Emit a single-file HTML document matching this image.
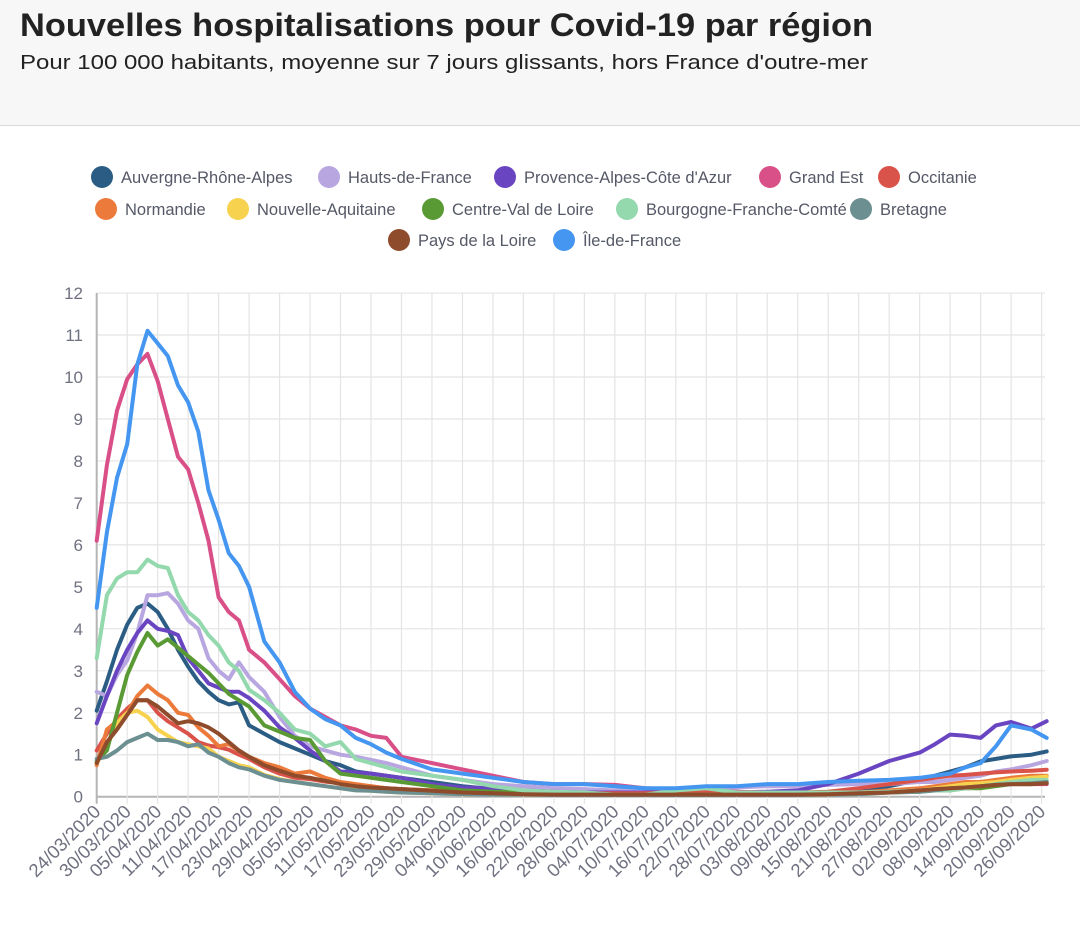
<!DOCTYPE html>
<html><head><meta charset="utf-8"><style>
body{margin:0;background:#fff;width:1080px;height:935px;overflow:hidden;font-family:"Liberation Sans",sans-serif}
svg{display:block}
</style></head><body>
<svg id="c" width="1080" height="935">
<rect x="0" y="0" width="1080" height="125" fill="#f7f7f7"/>
<line x1="0" y1="125.5" x2="1080" y2="125.5" stroke="#d8d8d8"/>
<text x="20" y="36" font-size="32" font-weight="bold" fill="#222" textLength="853" lengthAdjust="spacingAndGlyphs">Nouvelles hospitalisations pour Covid-19 par région</text>
<text x="20" y="69" font-size="20" fill="#222" textLength="848" lengthAdjust="spacingAndGlyphs">Pour 100 000 habitants, moyenne sur 7 jours glissants, hors France d'outre-mer</text>
<g id="grid"></g><g id="legend"></g><g id="lines"></g>
</svg>
<script>
const days=[0,2,4,6,8,10,12,14,16,18,20,22,24,26,28,30,33,36,39,42,45,48,51,54,57,60,66,72,78,84,90,96,102,108,114,120,126,132,138,144,150,156,162,165,168,171,174,177,180,184,187];
const yTicks=[0,1,2,3,4,5,6,7,8,9,10,11,12];
const xLabels=["24/03/2020","30/03/2020","05/04/2020","11/04/2020","17/04/2020","23/04/2020","29/04/2020","05/05/2020","11/05/2020","17/05/2020","23/05/2020","29/05/2020","04/06/2020","10/06/2020","16/06/2020","22/06/2020","28/06/2020","04/07/2020","10/07/2020","16/07/2020","22/07/2020","28/07/2020","03/08/2020","09/08/2020","15/08/2020","21/08/2020","27/08/2020","02/09/2020","08/09/2020","14/09/2020","20/09/2020","26/09/2020"];
const names=["Auvergne-Rhône-Alpes","Hauts-de-France","Provence-Alpes-Côte d'Azur","Grand Est","Occitanie","Normandie","Nouvelle-Aquitaine","Centre-Val de Loire","Bourgogne-Franche-Comté","Bretagne","Pays de la Loire","Île-de-France"];
const colors=["#2b5d84","#b8a6e0","#6a45c2","#d94f87","#d9534a","#ec7a3b","#f7d24f","#5a9a35","#93d9ad","#6c8f91","#8e4c2c","#4496f0"];
const ara=[2.05,2.75,3.5,4.1,4.5,4.6,4.4,4.0,3.5,3.1,2.75,2.5,2.3,2.2,2.25,1.7,1.5,1.3,1.15,1.0,0.85,0.75,0.6,0.55,0.5,0.45,0.35,0.25,0.18,0.12,0.1,0.1,0.1,0.08,0.08,0.08,0.08,0.08,0.08,0.1,0.15,0.25,0.4,0.5,0.6,0.7,0.84,0.9,0.96,1.0,1.08];
const hdf=[2.5,2.4,2.9,3.25,3.9,4.8,4.8,4.85,4.6,4.2,4.0,3.3,3.0,2.8,3.2,2.85,2.5,1.9,1.45,1.2,1.1,1.0,0.95,0.88,0.8,0.7,0.5,0.4,0.3,0.25,0.2,0.18,0.15,0.15,0.18,0.2,0.22,0.25,0.25,0.28,0.3,0.3,0.35,0.35,0.4,0.45,0.5,0.6,0.65,0.75,0.85];
const paca=[1.75,2.4,3.0,3.5,3.9,4.2,4.0,3.95,3.85,3.3,3.0,2.7,2.6,2.5,2.5,2.35,2.05,1.65,1.4,1.1,0.85,0.6,0.58,0.55,0.5,0.45,0.3,0.22,0.2,0.15,0.12,0.1,0.1,0.1,0.1,0.1,0.1,0.12,0.15,0.3,0.55,0.85,1.05,1.25,1.48,1.45,1.4,1.7,1.78,1.62,1.8];
const ge=[6.1,7.9,9.2,9.95,10.3,10.55,9.9,9.0,8.1,7.8,7.0,6.1,4.75,4.4,4.2,3.5,3.2,2.8,2.4,2.1,1.9,1.7,1.6,1.45,1.4,0.95,0.8,0.65,0.5,0.35,0.3,0.3,0.28,0.2,0.18,0.15,0.12,0.1,0.1,0.1,0.1,0.12,0.15,0.18,0.2,0.22,0.25,0.28,0.3,0.3,0.3];
const occ=[1.1,1.5,1.85,2.1,2.3,2.3,2.0,1.8,1.65,1.5,1.3,1.22,1.18,1.12,1.0,0.9,0.7,0.55,0.45,0.42,0.36,0.32,0.28,0.25,0.2,0.18,0.15,0.12,0.1,0.1,0.1,0.08,0.08,0.08,0.1,0.1,0.1,0.1,0.1,0.12,0.2,0.3,0.4,0.45,0.5,0.52,0.55,0.58,0.6,0.62,0.64];
const nor=[0.75,1.6,1.8,2.0,2.4,2.65,2.45,2.3,2.0,1.95,1.65,1.45,1.2,1.25,1.1,0.95,0.8,0.7,0.55,0.6,0.45,0.35,0.3,0.25,0.2,0.18,0.15,0.12,0.1,0.08,0.06,0.05,0.05,0.05,0.05,0.05,0.05,0.05,0.05,0.05,0.1,0.15,0.2,0.25,0.3,0.35,0.35,0.4,0.45,0.5,0.5];
const naq=[0.8,1.2,1.75,2.0,2.05,1.9,1.6,1.45,1.3,1.25,1.2,1.15,0.95,0.85,0.75,0.7,0.52,0.42,0.35,0.3,0.25,0.2,0.16,0.14,0.12,0.1,0.08,0.06,0.05,0.05,0.04,0.04,0.04,0.04,0.04,0.04,0.04,0.04,0.04,0.05,0.06,0.1,0.15,0.2,0.25,0.3,0.32,0.35,0.4,0.45,0.48];
const cvl=[0.85,1.1,2.0,2.9,3.45,3.9,3.6,3.75,3.55,3.35,3.15,2.95,2.7,2.45,2.3,2.15,1.7,1.55,1.4,1.35,0.85,0.55,0.5,0.45,0.4,0.35,0.25,0.15,0.12,0.1,0.08,0.06,0.05,0.05,0.05,0.05,0.05,0.05,0.05,0.06,0.08,0.1,0.12,0.15,0.15,0.2,0.2,0.25,0.3,0.3,0.35];
const bfc=[3.3,4.8,5.2,5.35,5.35,5.65,5.5,5.45,4.8,4.4,4.2,3.85,3.6,3.2,3.0,2.55,2.3,2.0,1.6,1.5,1.2,1.3,0.9,0.8,0.7,0.6,0.5,0.4,0.25,0.15,0.12,0.1,0.05,0.05,0.15,0.2,0.1,0.1,0.1,0.1,0.1,0.12,0.15,0.15,0.15,0.2,0.25,0.3,0.35,0.4,0.4];
const bre=[0.9,0.95,1.1,1.3,1.4,1.5,1.35,1.35,1.3,1.2,1.25,1.05,0.95,0.8,0.7,0.65,0.5,0.4,0.35,0.3,0.25,0.2,0.15,0.14,0.12,0.1,0.08,0.06,0.05,0.05,0.04,0.04,0.04,0.04,0.04,0.04,0.04,0.04,0.04,0.05,0.06,0.1,0.12,0.15,0.2,0.22,0.25,0.28,0.3,0.32,0.35];
const pdl=[0.8,1.3,1.6,1.95,2.3,2.3,2.15,1.95,1.75,1.8,1.75,1.65,1.5,1.3,1.1,0.95,0.75,0.62,0.5,0.45,0.38,0.3,0.25,0.22,0.2,0.18,0.14,0.1,0.08,0.06,0.05,0.05,0.05,0.05,0.05,0.05,0.05,0.05,0.05,0.06,0.08,0.1,0.15,0.18,0.2,0.22,0.25,0.28,0.3,0.3,0.32];
const idf=[4.5,6.3,7.6,8.4,10.3,11.1,10.8,10.5,9.8,9.4,8.7,7.3,6.6,5.8,5.5,5.0,3.7,3.2,2.5,2.1,1.85,1.7,1.4,1.25,1.05,0.9,0.65,0.55,0.45,0.35,0.3,0.3,0.25,0.2,0.2,0.25,0.25,0.3,0.3,0.35,0.38,0.4,0.45,0.5,0.55,0.7,0.8,1.2,1.7,1.6,1.4];
const series=[ara,hdf,paca,ge,occ,nor,naq,cvl,bfc,bre,pdl,idf];
const NS="http://www.w3.org/2000/svg";
const X0=96.7,DX=5.08,Y0=796.7,DY=41.97;
const xS=d=>X0+d*DX, yS=v=>Y0-v*DY;
function mk(t,a,p){const e=document.createElementNS(NS,t);for(const k in a)e.setAttribute(k,a[k]);p.appendChild(e);return e;}
const grid=document.getElementById('grid');
yTicks.forEach(v=>{
 const l=mk('line',{x1:X0,x2:1045,y1:yS(v),y2:yS(v),stroke:v===0?'#b5b5b5':'#e4e4e4','stroke-width':v===0?2:1.2},grid);
 
 
 const t=mk('text',{x:83,y:yS(v)+6,'text-anchor':'end','font-size':17,fill:'#6f7180'},grid);
 t.textContent=v;
 
 
});
xLabels.forEach((s,i)=>{
 const x=xS(i*6);
 const l=mk('line',{x1:x,x2:x,y1:yS(12),y2:Y0+7,stroke:i===0?'#b5b5b5':'#e4e4e4','stroke-width':i===0?2:1.2},grid);
 
 
 const t=mk('text',{x:x+5,y:Y0+16,'text-anchor':'end','font-size':18.5,fill:'#6f7180',transform:`rotate(-45 ${x+5} ${Y0+16})`},grid);
 t.textContent=s;
 
 
});
const legPos=[[102,177],[329,177],[505,177],[770,177],[889,177],[106,209],[238,209],[433,209],[627,209],[861,209],[399,240],[564,240]];
const leg=document.getElementById('legend');
names.forEach((n,i)=>{
 const g=mk('g',{},leg);
 
 
 mk('circle',{cx:legPos[i][0],cy:legPos[i][1],r:11,fill:colors[i]},g);
 const t=mk('text',{x:legPos[i][0]+19,y:legPos[i][1]+6,'font-size':16.5,fill:'#555866'},g);
 t.textContent=n;
});
const lines=document.getElementById('lines');
series.forEach((s,i)=>{
 const n=Math.min(s.length,days.length);
 let d='';
 for(let k=0;k<n;k++)d+=(k?'L':'M')+xS(days[k]).toFixed(1)+','+yS(s[k]).toFixed(1);
 const p=mk('path',{d:d,fill:'none',stroke:colors[i],'stroke-width':4,'stroke-linejoin':'round','stroke-linecap':'round'},lines);
 
 
});
</script>
</body></html>
